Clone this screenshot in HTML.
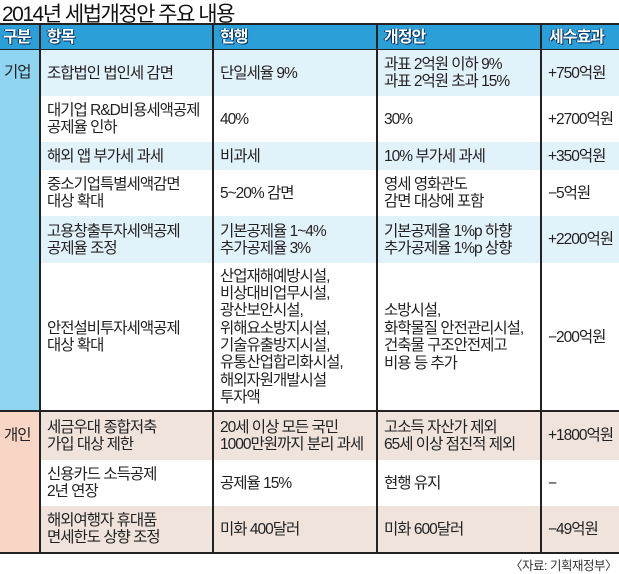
<!DOCTYPE html>
<html><head><meta charset="utf-8"><style>
*{margin:0;padding:0;box-sizing:border-box}
body{width:619px;height:573px;background:#fff;position:relative;overflow:hidden;font-family:"Liberation Sans","Noto Sans CJK KR",sans-serif;color:#222}
.t{position:absolute;left:2px;top:-2px;font-size:21px;letter-spacing:-1.5px;color:#111}
.r{position:absolute;left:0;width:619px}
.c{position:absolute;top:0;height:100%;display:flex;align-items:center;font-size:15.5px;letter-spacing:-1px;line-height:17px;padding-left:7px;white-space:nowrap}
.hd{background:#2a9fd8;color:#fff;font-weight:bold;text-shadow:0 0 1px #036,1px 1px 0 #036,-1px 0 0 #036}
.hd .c{font-size:16px}
.vl{position:absolute;top:24px;width:1.5px;height:529px;background:#222}
.hl{position:absolute;left:0;width:619px;height:1.5px;background:#222}
</style></head><body>
<div class="t">2014년 세법개정안 주요 내용</div>
<div class="hl" style="top:23px;height:2px"></div>
<div class="r hd" style="top:25px;height:24px">
 <div class="c" style="left:0;padding-left:3px">구분</div>
 <div class="c" style="left:40px">항목</div>
 <div class="c" style="left:213px">현행</div>
 <div class="c" style="left:377px">개정안</div>
 <div class="c" style="left:542px">세수효과</div>
</div>
<div class="hl" style="top:49px"></div>
<div style="position:absolute;left:0;top:50px;width:39px;height:361px;background:#8fd5f2"></div>
<div style="position:absolute;left:0;top:411px;width:39px;height:141px;background:#f8d5c4"></div>
<div class="r" style="top:50px;height:46px;left:39px;width:580px;background:#e2f2fb"></div>
<div class="r" style="top:142px;height:28px;left:39px;width:580px;background:#e2f2fb"></div>
<div class="r" style="top:216px;height:47px;left:39px;width:580px;background:#e2f2fb"></div>
<div class="r" style="top:411px;height:49px;left:39px;width:580px;background:#efe3dc"></div>
<div class="r" style="top:506px;height:46px;left:39px;width:580px;background:#efe3dc"></div>
<div class="hl" style="top:410px"></div>
<div class="hl" style="top:552px"></div>
<div class="vl" style="left:39px"></div>
<div class="vl" style="left:212px"></div>
<div class="vl" style="left:376px"></div>
<div class="vl" style="left:540px"></div>

<div class="r" style="top:50px;height:46px">
 <div class="c" style="left:0;padding-left:4px;align-items:flex-start;padding-top:14px">기업</div>
 <div class="c" style="left:40px">조합법인 법인세 감면</div>
 <div class="c" style="left:213px">단일세율 9%</div>
 <div class="c" style="left:377px">과표 2억원 이하 9%<br>과표 2억원 초과 15%</div>
 <div class="c" style="left:541px">+750억원</div>
</div>
<div class="r" style="top:96px;height:46px">
 <div class="c" style="left:40px">대기업 R&amp;D비용세액공제<br>공제율 인하</div>
 <div class="c" style="left:213px">40%</div>
 <div class="c" style="left:377px">30%</div>
 <div class="c" style="left:541px">+2700억원</div>
</div>
<div class="r" style="top:142px;height:28px">
 <div class="c" style="left:40px">해외 앱 부가세 과세</div>
 <div class="c" style="left:213px">비과세</div>
 <div class="c" style="left:377px">10% 부가세 과세</div>
 <div class="c" style="left:541px">+350억원</div>
</div>
<div class="r" style="top:170px;height:46px">
 <div class="c" style="left:40px">중소기업특별세액감면<br>대상 확대</div>
 <div class="c" style="left:213px">5~20% 감면</div>
 <div class="c" style="left:377px">영세 영화관도<br>감면 대상에 포함</div>
 <div class="c" style="left:541px">−5억원</div>
</div>
<div class="r" style="top:216px;height:47px">
 <div class="c" style="left:40px">고용창출투자세액공제<br>공제율 조정</div>
 <div class="c" style="left:213px">기본공제율 1~4%<br>추가공제율 3%</div>
 <div class="c" style="left:377px">기본공제율 1%p 하향<br>추가공제율 1%p 상향</div>
 <div class="c" style="left:541px">+2200억원</div>
</div>
<div class="r" style="top:263px;height:148px">
 <div class="c" style="left:40px">안전설비투자세액공제<br>대상 확대</div>
 <div class="c" style="left:213px;line-height:17.3px">산업재해예방시설,<br>비상대비업무시설,<br>광산보안시설,<br>위해요소방지시설,<br>기술유출방지시설,<br>유통산업합리화시설,<br>해외자원개발시설<br>투자액</div>
 <div class="c" style="left:377px;line-height:17.5px">소방시설,<br>화학물질 안전관리시설,<br>건축물 구조안전제고<br>비용 등 추가</div>
 <div class="c" style="left:541px">−200억원</div>
</div>
<div class="r" style="top:411px;height:49px">
 <div class="c" style="left:0;padding-left:4px">개인</div>
 <div class="c" style="left:40px">세금우대 종합저축<br>가입 대상 제한</div>
 <div class="c" style="left:213px">20세 이상 모든 국민<br>1000만원까지 분리 과세</div>
 <div class="c" style="left:377px">고소득 자산가 제외<br>65세 이상 점진적 제외</div>
 <div class="c" style="left:541px">+1800억원</div>
</div>
<div class="r" style="top:460px;height:46px">
 <div class="c" style="left:40px">신용카드 소득공제<br>2년 연장</div>
 <div class="c" style="left:213px">공제율 15%</div>
 <div class="c" style="left:377px">현행 유지</div>
 <div class="c" style="left:541px">−</div>
</div>
<div class="r" style="top:506px;height:46px">
 <div class="c" style="left:40px">해외여행자 휴대품<br>면세한도 상향 조정</div>
 <div class="c" style="left:213px">미화 400달러</div>
 <div class="c" style="left:377px">미화 600달러</div>
 <div class="c" style="left:541px">−49억원</div>
</div>
<div style="position:absolute;right:2px;top:555px;font-size:12.5px;letter-spacing:-0.5px;color:#333">〈자료: 기획재정부〉</div>
</body></html>
